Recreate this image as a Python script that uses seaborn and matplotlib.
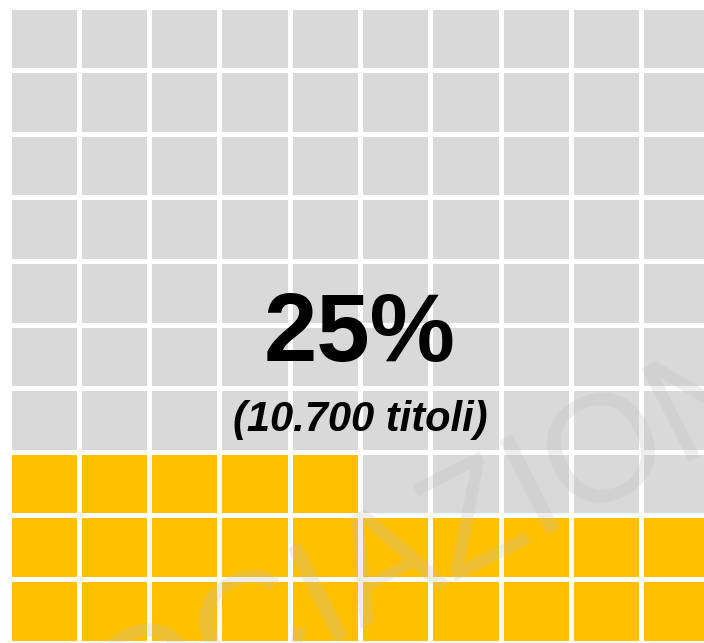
# =========================
# WAFFLE CHART - QUOTA TITOLI
# =========================

import numpy as np
import pandas as pd
import matplotlib
matplotlib.use("Agg")
import matplotlib.pyplot as plt
import seaborn as sns
from matplotlib.colors import ListedColormap

# =========================
# DATI
# =========================

percentuale = 25
titoli = "10.700"
n_righe = 10
n_colonne = 10
colori = ["#D9D9D9", "#FFC000"]   # resto, quota
filigrana = "ASSOCIAZIONE"

# =========================
# GRIGLIA (riempita dal basso, da sinistra)
# =========================

celle = np.zeros(n_righe * n_colonne)
celle[:percentuale] = 1
griglia = celle.reshape(n_righe, n_colonne)[::-1]
df = pd.DataFrame(griglia)

# =========================
# GRAFICO
# =========================

fig = plt.figure(figsize=(7.04, 6.43), dpi=100)
ax = fig.add_axes([8.5 / 704, 0.5 / 643, 703 / 704, 636 / 643])

sns.heatmap(
    df,
    ax=ax,
    cmap=ListedColormap(colori),
    vmin=0,
    vmax=1,
    cbar=False,
    linewidths=2.3,
    linecolor="white",
    xticklabels=False,
    yticklabels=False,
)

ax.text(0.5, 0.482, f"{percentuale}%", transform=ax.transAxes,
        ha="center", va="center", fontsize=69, fontweight="bold",
        family="Liberation Sans", color="black")

ax.text(0.5, 0.35, f"({titoli} titoli)", transform=ax.transAxes,
        ha="center", va="center", fontsize=30, fontweight="bold",
        fontstyle="italic", family="Liberation Sans", color="black")

# filigrana
fig.text(340 / 704, 1 - 596 / 643, filigrana, rotation=27,
         ha="center", va="center", fontsize=110,
         family="Liberation Sans", color="#BFBFBF", alpha=0.28,
         rotation_mode="anchor")

fig.savefig("out.png", dpi=100)
